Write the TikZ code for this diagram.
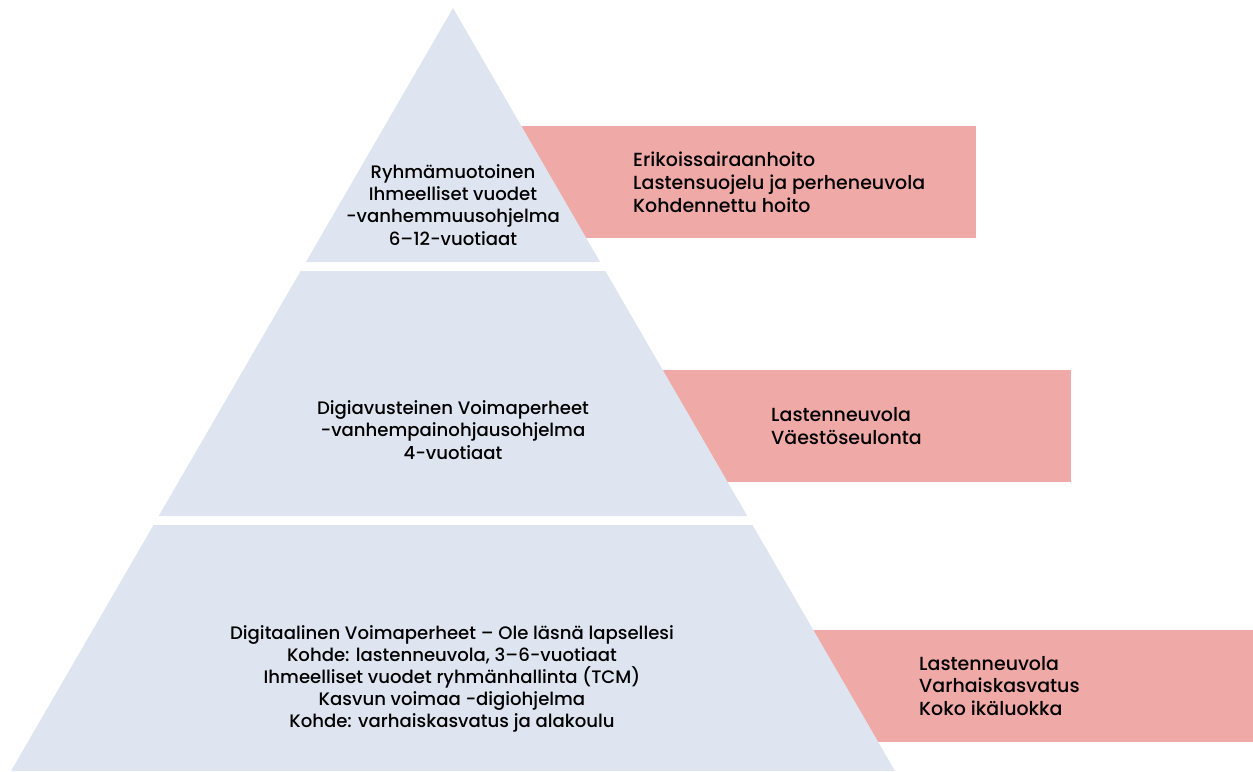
\documentclass[tikz,border=0pt]{standalone}
\usepackage{fontspec}
\setmainfont{Poppins}[UprightFont={* Medium}]
\definecolor{tierblue}{HTML}{DFE5F0}
\definecolor{boxpink}{HTML}{EFA9A6}
\tikzset{
  tier/.style={fill=tierblue, draw=none},
  infobox/.style={fill=boxpink, draw=none},
  tiertext/.style={align=center, font=\fontsize{10.3}{12.6}\selectfont},
  boxtext/.style={align=left, anchor=west, font=\fontsize{10.8}{13}\selectfont}
}
\begin{document}
\begin{tikzpicture}[x=0.02cm, y=-0.02cm]
      \useasboundingbox (0,0) rectangle (1253,771);
      % pink boxes behind the pyramid
      \fill[infobox] (480,126) rectangle (976,238);
      \fill[infobox] (640,370) rectangle (1071,482);
      \fill[infobox] (800,630) rectangle (1253,742);
      % pyramid tiers
      \fill[tier] (453,8) -- (600.1,262) -- (305.9,262) -- cycle;
      \fill[tier] (300.6,271) -- (605.4,271) -- (747.3,516) -- (158.7,516) -- cycle;
      \fill[tier] (153.5,525) -- (752.5,525) -- (895,771) -- (11,771) -- cycle;
      % tier texts
      \node[tiertext] (t1) at (453, 205) {Ryhmämuotoinen\\Ihmeelliset vuodet\\-vanhemmuusohjelma\\6–12-vuotiaat};
      \node[tiertext] (t2) at (453, 430) {Digiavusteinen Voimaperheet\\-vanhempainohjausohjelma\\4-vuotiaat};
      \node[tiertext] (t3) at (452, 679) {Digitaalinen Voimaperheet – Ole läsnä lapsellesi\\Kohde: lastenneuvola, 3–6-vuotiaat\\Ihmeelliset vuodet ryhmänhallinta (TCM)\\Kasvun voimaa -digiohjelma\\Kohde: varhaiskasvatus ja alakoulu};
      % box texts
      \node[boxtext] (b1) at (627, 182) {Erikoissairaanhoito\\Lastensuojelu ja perheneuvola\\Kohdennettu hoito};
      \node[boxtext] (b2) at (765, 426) {Lastenneuvola\\Väestöseulonta};
      \node[boxtext] (b3) at (913, 686) {Lastenneuvola\\Varhaiskasvatus\\Koko ikäluokka};
\end{tikzpicture}
\end{document}
